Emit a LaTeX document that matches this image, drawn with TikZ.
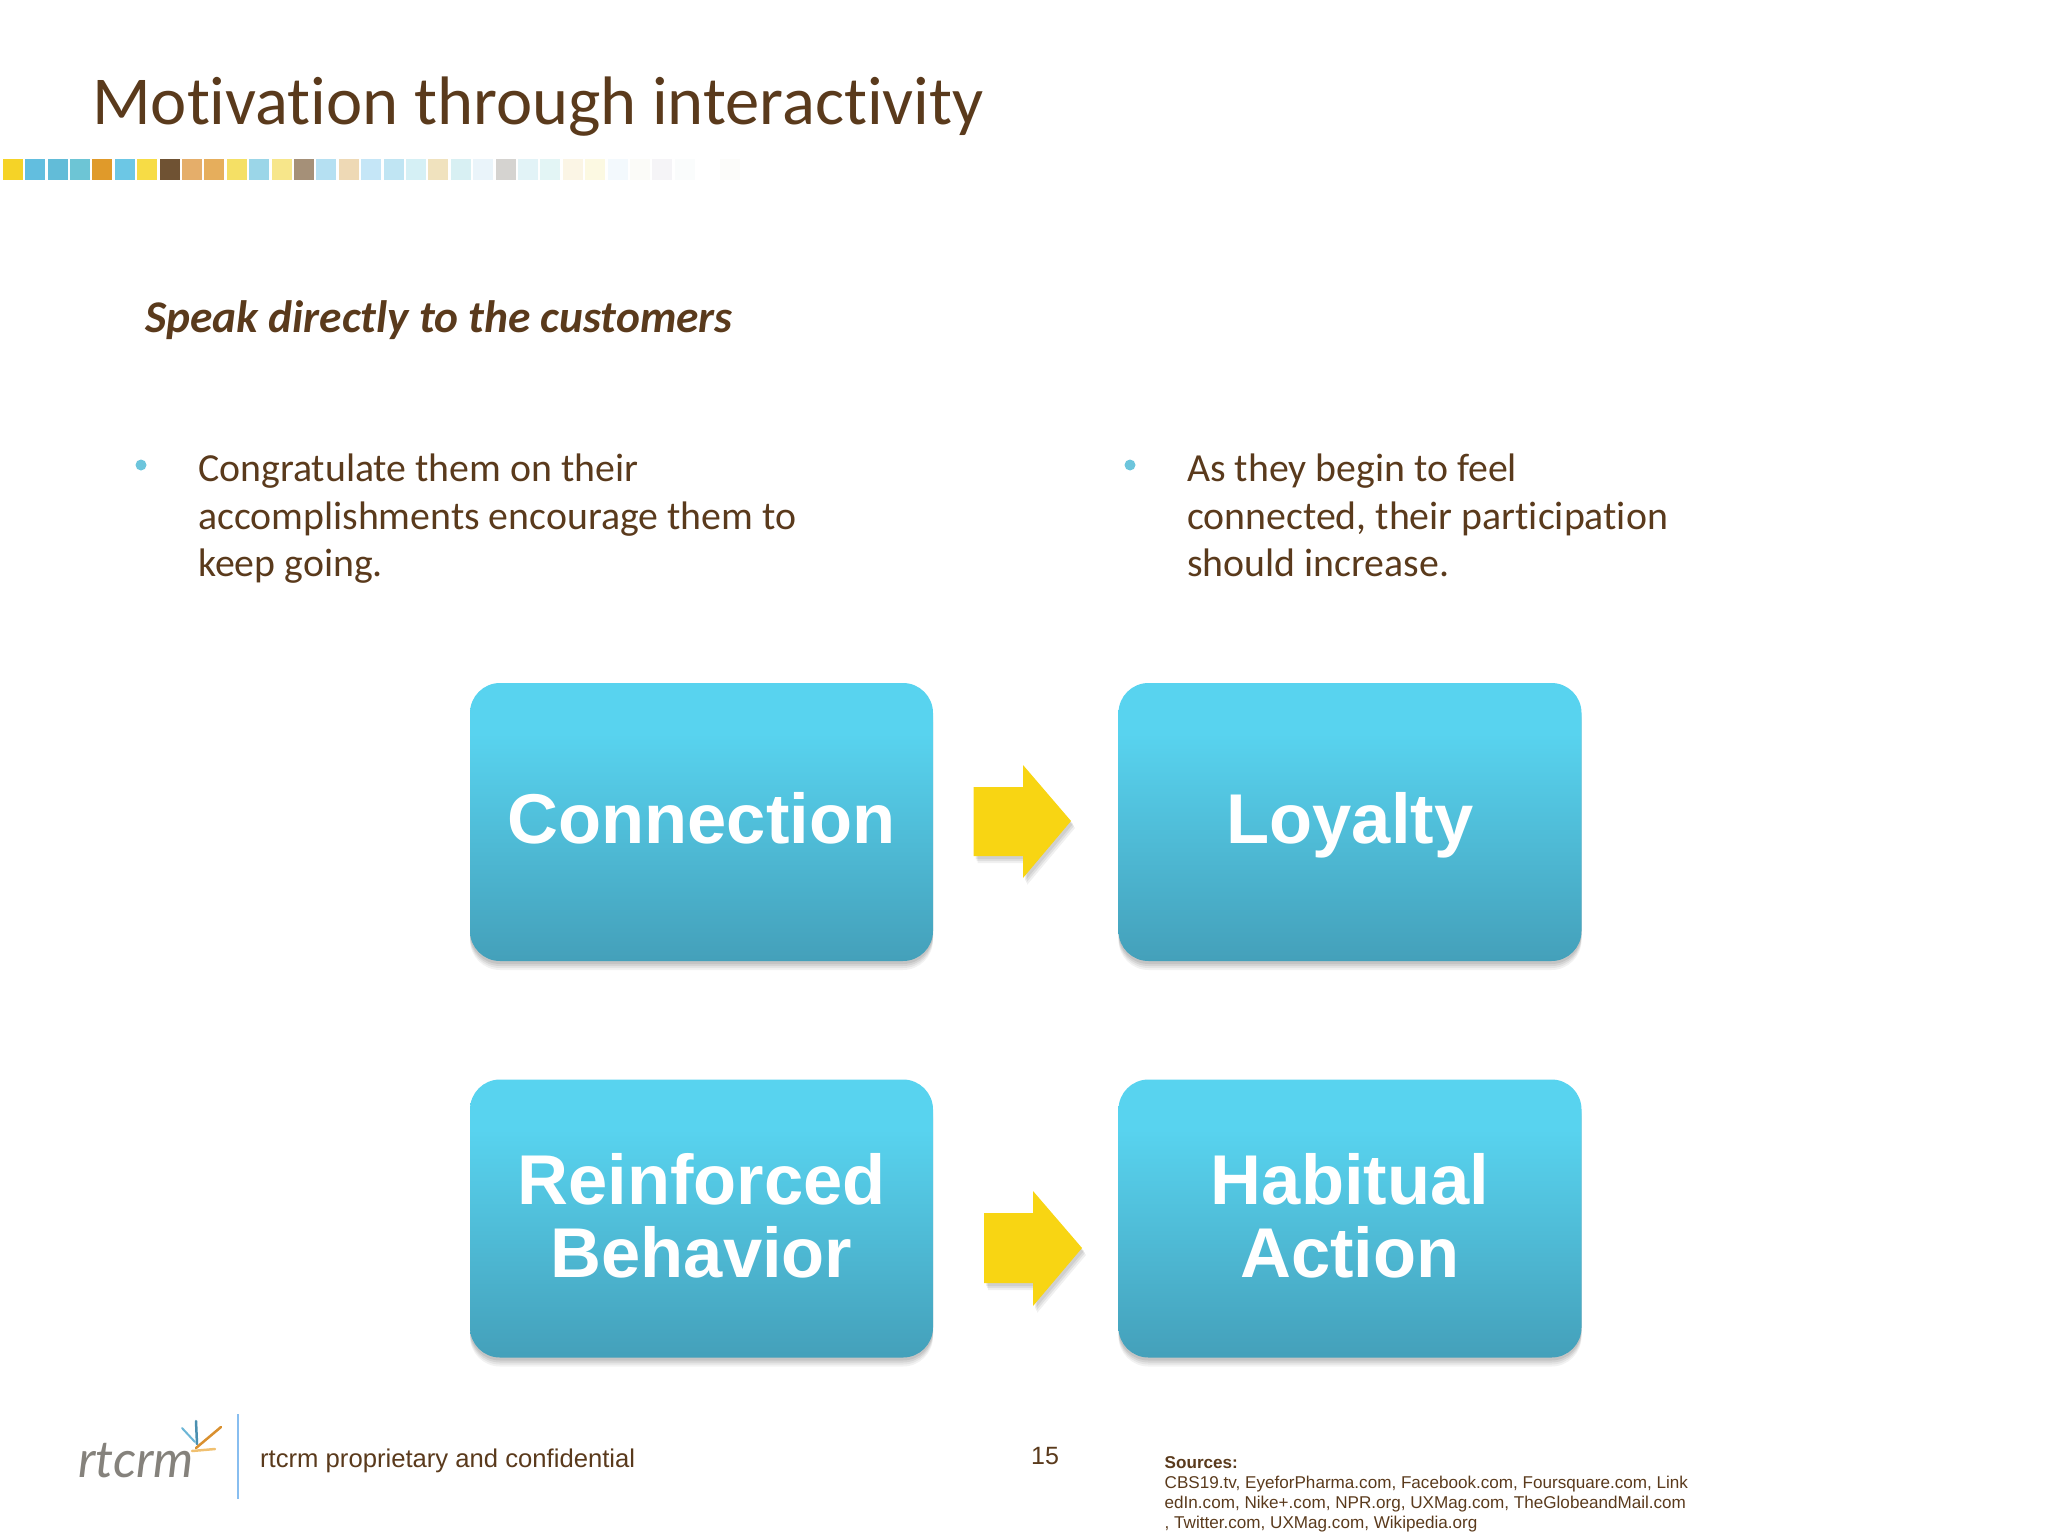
\documentclass[tikz,border=0pt]{standalone}
\usepackage{fontspec}
\setmainfont[Ligatures=NoCommon]{Carlito}
\newfontfamily\arialf{Liberation Sans}
\newfontfamily\logof{Lato}
\definecolor{brownt}{HTML}{5A3A1C}
\definecolor{bullet}{HTML}{6CC5DC}
\definecolor{logog}{HTML}{85827C}
\definecolor{boxt}{HTML}{58D3EF}
\definecolor{boxb}{HTML}{44A0BA}
\definecolor{arrowy}{HTML}{F8D513}
\definecolor{starb}{HTML}{6CB6D6}
\definecolor{stard}{HTML}{4A8FB0}
\definecolor{staro}{HTML}{D9902F}
\definecolor{starl}{HTML}{F0C070}
\definecolor{rulec}{HTML}{88BEF0}
\pgfdeclareverticalshading{boxgrad}{100bp}{color(0bp)=(boxb); color(25bp)=(boxb); color(66bp)=(boxt); color(100bp)=(boxt)}
\newcommand{\fsz}[2]{\fontsize{#1}{#2}\selectfont}
\newcommand{\onelinefix}{\vphantom{y}\rule{0pt}{57pt}}
\newcommand{\twolinefix}{\rule[-6pt]{0pt}{0pt}}
\tikzset{
  softshadow/.style={
    preaction={fill=black,opacity=.07,transform canvas={yshift=-3pt}},
    preaction={fill=black,opacity=.07,transform canvas={yshift=-5pt}},
    preaction={fill=black,opacity=.06,transform canvas={yshift=-7pt}},
    preaction={fill=black,opacity=.05,transform canvas={yshift=-9pt}}},
  flowbox/.style={softshadow,shading=boxgrad,rectangle,rounded corners=30pt,minimum width=463pt,minimum height=278pt,
    inner sep=0pt,align=center,text=white,font=\arialf\bfseries\fsz{70.5}{73}},
  blockarrow/.style={fill=arrowy,
    preaction={fill=black,opacity=.07,transform canvas={xshift=2pt,yshift=-3pt}},
    preaction={fill=black,opacity=.07,transform canvas={xshift=3pt,yshift=-5pt}},
    preaction={fill=black,opacity=.06,transform canvas={xshift=4pt,yshift=-7pt}}},
  plain/.style={inner sep=0pt,text=brownt,anchor=base west},
  bodytext/.style={plain,font=\fsz{39.8}{47.6}},
  srctext/.style={plain,font=\arialf\fsz{17.1}{20}},
  dot/.style={circle,fill=bullet,minimum size=11pt,inner sep=0pt},
  sq/.style={minimum width=20pt,minimum height=21pt,inner sep=0pt,anchor=north west}
}
\newcounter{sqi}
\begin{document}
\begin{tikzpicture}[x=1pt,y=-1pt]
\useasboundingbox (0,0) rectangle (2048,1536);
% title
\node[plain,font=\fsz{68.6}{70}] (title) at (92,125) {Motivation through interactivity};
% colour strip
\foreach \c in {F5D327,62BEDF,62BCD8,6DC5D5,E09A2A,6CC7E5,F7DC45,6F5233,E5AE6A,E6AE5C,F5E065,9BD6E8,F7E68A,A59078,B5E0F2,EED9B5,C5E6F7,C0E5F3,D5F0F5,F0E2BE,D8F0F3,EAF4FA,D5D3D0,E2F3F7,E3F5F5,FBF5E5,FCF9E2,F3F9FD,FBFBF8,F5F4F7,FAFCFC,FFFFFF,FCFCFA}{
  \definecolor{sqc}{HTML}{\c}
  \pgfmathsetmacro{\sx}{2.5+22.4*\value{sqi}}
  \node[sq,fill=sqc] (sq\arabic{sqi}) at (\sx,158.5) {};
  \stepcounter{sqi}
}
% subtitle
\node[plain,font=\bfseries\itshape\fsz{45.4}{48}] (sub) at (145,332) {Speak directly to the customers};
% bullets
\node[dot] (d1) at (141,465) {};
\node[bodytext] (l1a) at (198,481) {Congratulate them on their};
\node[bodytext] (l1b) at (198,529) {accomplishments encourage them to};
\node[bodytext] (l1c) at (198,576.5) {keep going.};
\node[dot] (d2) at (1130,465) {};
\node[bodytext] (l2a) at (1187,481) {As they begin to feel};
\node[bodytext] (l2b) at (1187,529) {connected, their participation};
\node[bodytext] (l2c) at (1187,576.5) {should increase.};
% boxes
\node[flowbox] (conn) at (701.5,822) {\onelinefix Connection};
\node[flowbox] (loy) at (1350,822) {\onelinefix Loyalty};
\node[flowbox] (rein) at (701.5,1218.5) {Reinforced\\Behavior\twolinefix};
\node[flowbox] (hab) at (1350,1218.5) {Habitual\\Action\twolinefix};
% arrows
\path[blockarrow] (973.5,787) -- (1023,787) -- (1023,765) -- (1071,821) -- (1023,878) -- (1023,856) -- (973.5,856) -- cycle;
\path[blockarrow] (984,1213) -- (1033,1213) -- (1033,1191) -- (1082,1248) -- (1033,1306) -- (1033,1283) -- (984,1283) -- cycle;
% footer
\node[plain,font=\logof\itshape\fsz{51}{54},text=logog] (logo) at (78,1477) {rtcrm};
\draw[line width=2.5pt,line cap=round,color=stard] (196,1421) -- (197,1444);
\draw[line width=2pt,line cap=round,color=starb] (182,1428) -- (195,1442);
\draw[line width=2.5pt,line cap=round,color=staro] (221,1427) -- (196,1448);
\draw[line width=2.5pt,line cap=round,color=starl] (215,1449) -- (192,1451);
\draw[color=rulec,line width=2pt] (238,1414) -- (238,1499);
\node[plain,font=\arialf\fsz{25.65}{30}] (conf) at (260,1467) {rtcrm proprietary and confidential};
\node[plain,font=\arialf\fsz{25}{30}] (pg) at (1031,1464) {15};
\node[srctext,font=\arialf\bfseries\fsz{17.1}{20}] (s0) at (1164.5,1468) {Sources:};
\node[srctext] (s1) at (1164.5,1488) {CBS19.tv, EyeforPharma.com, Facebook.com, Foursquare.com, Link};
\node[srctext] (s2) at (1164.5,1508) {edIn.com, Nike+.com, NPR.org, UXMag.com, TheGlobeandMail.com};
\node[srctext] (s3) at (1164.5,1528) {, Twitter.com, UXMag.com, Wikipedia.org};
\end{tikzpicture}
\end{document}
